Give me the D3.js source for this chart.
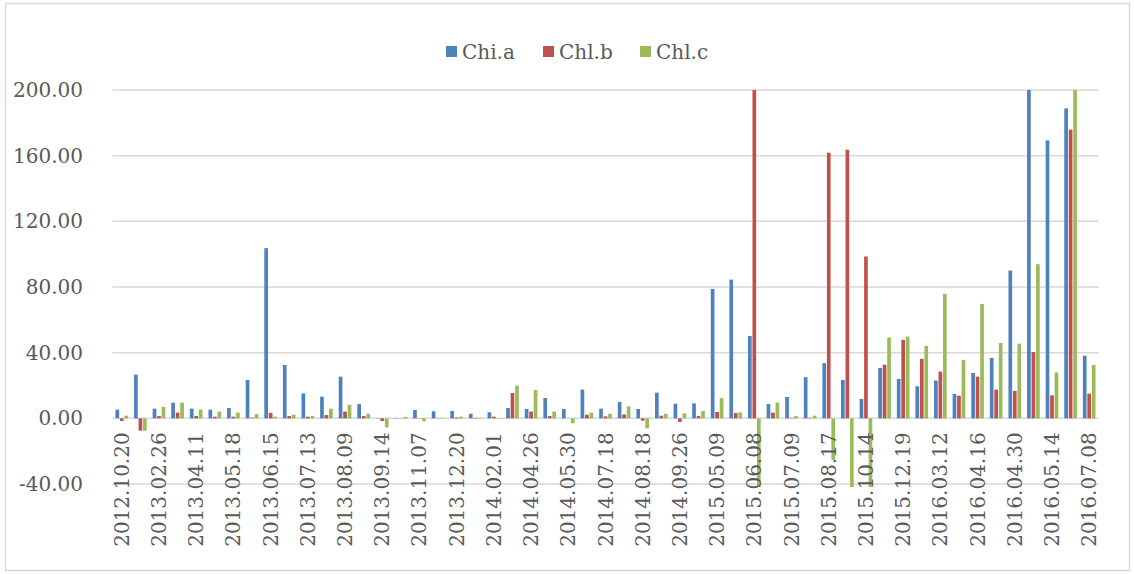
<!DOCTYPE html>
<html>
<head>
<meta charset="utf-8">
<script src="https://cdn.jsdelivr.net/npm/d3@7"></script>
<style>
  body { margin: 0; background: #fff; }
  text { font-family: "DejaVu Serif", serif; fill: #595959; }
</style>
</head>
<body>
<svg id="chart" width="1134" height="574"></svg>
<script>
// sampling dates (only every other one is labelled on the axis)
const dates = [
  "2012.10.20","2012.12.15","2013.02.26","2013.03.20","2013.04.11","2013.04.25",
  "2013.05.18","2013.06.01","2013.06.15","2013.06.29","2013.07.13","2013.07.27",
  "2013.08.09","2013.08.24","2013.09.14","2013.10.12","2013.11.07","2013.11.28",
  "2013.12.20","2014.01.11","2014.02.01","2014.03.29","2014.04.26","2014.05.10",
  "2014.05.30","2014.06.21","2014.07.18","2014.08.02","2014.08.18","2014.09.06",
  "2014.09.26","2015.04.18","2015.05.09","2015.05.23","2015.06.08","2015.06.22",
  "2015.07.09","2015.07.30","2015.08.17","2015.09.16","2015.10.14","2015.11.20",
  "2015.12.19","2016.02.20","2016.03.12","2016.03.26","2016.04.16","2016.04.23",
  "2016.04.30","2016.05.07","2016.05.14","2016.06.11","2016.07.08"
];

const chiA = [5.3, 26.6, 5.9, 9.5, 5.9, 5.3, 6.3, 23.4, 103.7, 32.5, 15.2,
  13.2, 25.4, 8.7, 0.2, 0.2, 5.1, 4.3, 4.5, 2.8, 3.7,
  6.3, 5.7, 12.4, 5.7, 17.5, 5.9, 10.0, 5.7, 15.6, 8.9, 9.1,
  78.8, 84.5, 50.2, 8.7, 13.0, 25.1, 33.6, 23.4, 11.8,
  30.7, 24.0, 19.5, 23.0, 14.8, 27.6, 36.8, 90.0, 215, 169.3, 188.8, 38.2];

const chlB = [-1.6, -7.5, 1.4, 3.5, 1.4, 1.0, 1.0, 0.4, 3.3, 1.4, 1.0,
  2.0, 4.1, 1.4, -1.6, 0.1, 0.1, 0.1, 0.5, 0.3, 1.0,
  15.4, 4.1, 1.4, 0.1, 2.2, 1.2, 2.4, -1.4, 1.6, -2.2, 1.4,
  3.9, 3.2, 260, 3.5, 0.3, 0.3, 161.8, 163.6, 98.6,
  32.7, 47.8, 36.2, 28.5, 13.8, 25.4, 17.5, 16.7, 40.4, 14.0, 175.8, 15.0];

const chlC = [1.6, -7.5, 6.9, 9.5, 5.3, 4.1, 3.5, 2.6, 1.0, 2.2, 1.4,
  5.9, 8.3, 2.8, -5.5, 0.8, -1.8, 0.3, 1.0, 0.3, 0.2,
  19.9, 17.3, 4.1, -3.0, 3.5, 2.8, 7.3, -6.1, 2.8, 3.0, 4.5,
  12.3, 3.6, -45, 9.6, 1.4, 1.6, -25.4, -45, -45,
  49.2, 49.8, 44.1, 75.8, 35.6, 69.7, 45.9, 45.5, 93.9, 28.0, 230, 32.5];

const seriesNames = ["Chi.a", "Chl.b", "Chl.c"];
const colors = ["#4F81BD", "#C0504D", "#9BBB59"];
const yTicks = [-40, 0, 40, 80, 120, 160, 200];

const svg = d3.select("#chart");
const W = 1134, H = 574;
const plot = {left: 112.5, right: 1098.5, top: 90, bottom: 484};

svg.append("rect").attr("width", W).attr("height", H).attr("fill", "#fff");
svg.append("rect")
  .attr("x", 5.5).attr("y", 3.5).attr("width", W - 10).attr("height", H - 7)
  .attr("fill", "none").attr("stroke", "#d9d9d9").attr("stroke-width", 1.5);

const y = d3.scaleLinear().domain([-40, 200]).range([plot.bottom, plot.top]);
const x0 = d3.scaleBand().domain(dates).range([plot.left, plot.right])
  .paddingInner(0.32).paddingOuter(0.16);
const x1 = d3.scaleBand().domain(seriesNames).range([0, x0.bandwidth()]).paddingInner(0.18);
const color = d3.scaleOrdinal().domain(seriesNames).range(colors);

// gridlines
svg.append("g").selectAll("line").data(yTicks).join("line")
  .attr("x1", plot.left).attr("x2", plot.right)
  .attr("y1", d => y(d)).attr("y2", d => y(d))
  .attr("stroke", "#d9d9d9").attr("stroke-width", 1.5);

// y tick labels (plain hyphen for the minus, like the original)
svg.append("g").selectAll("text").data(yTicks).join("text")
  .attr("x", 83).attr("y", d => y(d))
  .attr("dy", "0.35em").attr("text-anchor", "end")
  .attr("font-size", 20)
  .text(d => d.toFixed(2));

svg.append("clipPath").attr("id", "clip").append("rect")
  .attr("x", plot.left).attr("y", plot.top)
  .attr("width", plot.right - plot.left).attr("height", plot.bottom - plot.top + 3);

const rows = dates.map((d, i) => ({date: d, vals: [chiA[i], chlB[i], chlC[i]]}));

const groups = svg.append("g").attr("clip-path", "url(#clip)")
  .selectAll("g").data(rows).join("g")
  .attr("transform", d => `translate(${x0(d.date)},0)`);

groups.selectAll("rect")
  .data(d => d.vals.map((v, k) => ({key: seriesNames[k], v})))
  .join("rect")
  .attr("x", d => x1(d.key))
  .attr("width", x1.bandwidth())
  .attr("y", d => y(Math.max(0, d.v)))
  .attr("height", d => Math.abs(y(d.v) - y(0)))
  .attr("fill", d => color(d.key));

// category labels, every other one, rotated
svg.append("g").selectAll("text")
  .data(dates.filter((d, i) => i % 2 === 0)).join("text")
  .attr("transform", d => `translate(${x0(d) + x0.bandwidth() / 2},${y(0) + 14}) rotate(-90)`)
  .attr("text-anchor", "end").attr("dy", "0.35em")
  .attr("font-size", 20)
  .text(d => d);

// legend
const legend = svg.append("g").attr("transform", "translate(446,52)");
const item = legend.selectAll("g").data(seriesNames).join("g")
  .attr("transform", (d, i) => `translate(${i * 97},0)`);
item.append("rect").attr("x", 0).attr("y", -6).attr("width", 11).attr("height", 11)
  .attr("fill", d => color(d));
item.append("text").attr("x", 16).attr("y", 0).attr("dy", "0.35em")
  .attr("font-size", 20).text(d => d);
</script>
</body>
</html>
